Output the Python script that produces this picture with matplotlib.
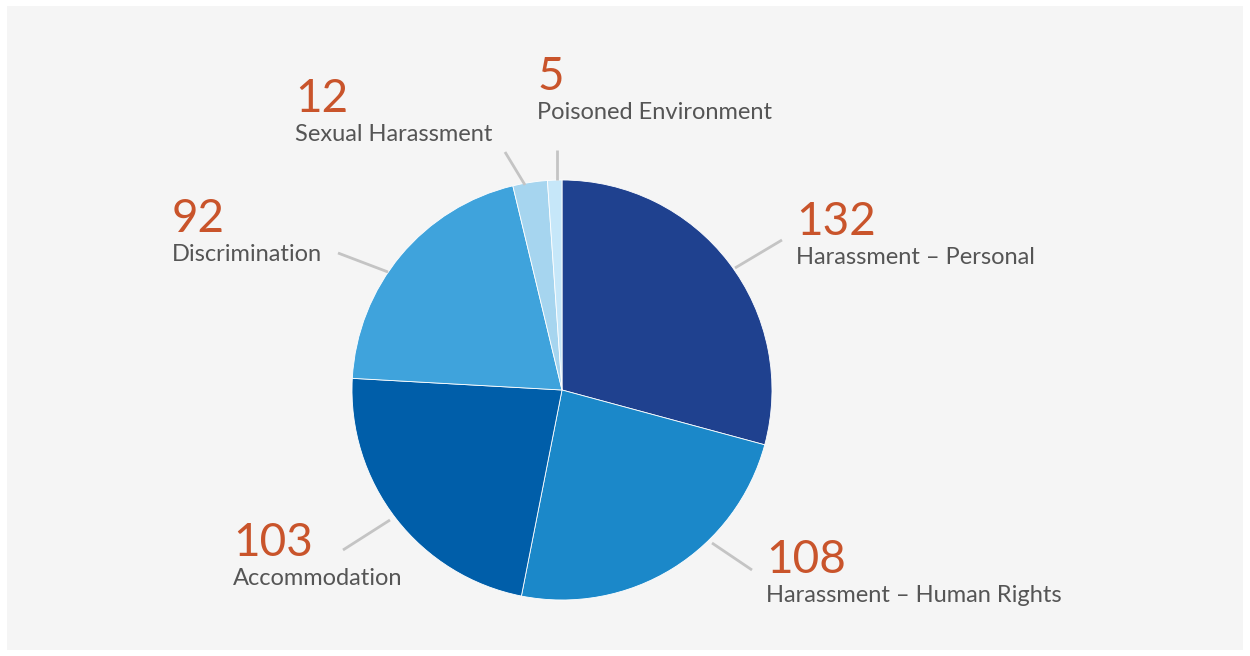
import matplotlib.pyplot as plt
from matplotlib.patches import Rectangle

plt.rcParams['font.family'] = ['Lato', 'DejaVu Sans']

# data
categories = ["Harassment – Personal", "Harassment – Human Rights", "Accommodation",
              "Discrimination", "Sexual Harassment", "Poisoned Environment"]
values = [132, 108, 103, 92, 12, 5]
colors = ["#1f418f", "#1b88c9", "#005ea9", "#3fa3dc", "#a6d5ef", "#c6e7f9"]

# layout (pixel positions): label anchor, leader line start/end
label_pos = [(796, 235), (766, 573), (233, 556), (172, 232), (295, 112), (537, 90)]
leaders = [((735, 268), (782, 240)), ((712, 543), (752, 570)), ((390, 520), (343, 550)),
           ((388, 272), (338, 253)), ((525, 185), (505, 152)), ((557, 180), (557, 150))]

W, H = 1250, 656
fig = plt.figure(figsize=(12.5, 6.56), dpi=100, facecolor="white")
ax = fig.add_axes([0, 0, 1, 1])

ax.add_patch(Rectangle((7, 6), 1236, 644, facecolor="#f5f5f5", edgecolor="none", zorder=0))

ax.pie(values, colors=colors, center=(562, 390), radius=210, startangle=-90,
       counterclock=True, wedgeprops=dict(edgecolor="white", linewidth=0.6),
       frame=True)
ax.set_xlim(0, W)
ax.set_ylim(H, 0)
ax.set_aspect("equal")
ax.axis("off")

for (p0, p1) in leaders:
    ax.plot([p0[0], p1[0]], [p0[1], p1[1]], color="#c4c4c4", lw=2, solid_capstyle="butt", zorder=1)

for cat, val, (x, y) in zip(categories, values, label_pos):
    ax.text(x, y, str(val), color="#c9542b", fontsize=33, va="baseline", ha="left")
    ax.text(x, y + 29, cat, color="#555555", fontsize=17, va="baseline", ha="left")

fig.savefig("out.png", dpi=100, facecolor="white")
